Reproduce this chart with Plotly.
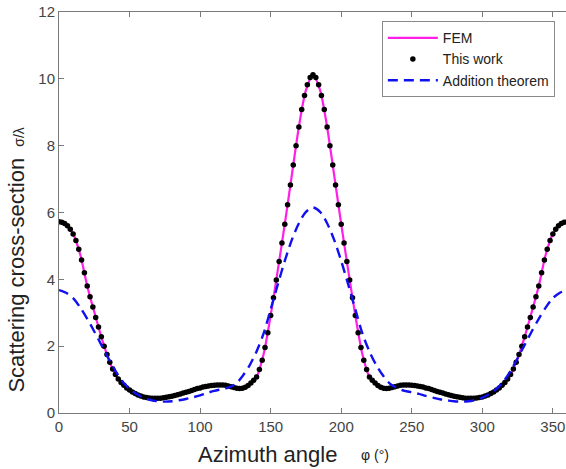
import numpy as np
import plotly.graph_objects as go

# ---------------- data ----------------
phi_5 = np.arange(0, 360.1, 5.0)        # FEM and addition-theorem sampling (deg)
phi_2 = np.arange(0, 360.1, 2.0)        # "This work" sampling (deg)

sigma_fem = [
    5.72, 5.64, 5.36, 4.75, 3.80, 3.02, 2.28, 1.63, 1.15, 0.87,
    0.69, 0.56, 0.48, 0.45, 0.44, 0.46, 0.50, 0.56, 0.62, 0.69,
    0.75, 0.80, 0.83, 0.84, 0.81, 0.75, 0.74, 0.86, 1.08, 1.76,
    2.92, 4.26, 5.65, 7.12, 8.56, 9.66, 10.12,
    9.66, 8.56, 7.12, 5.65, 4.26, 2.92, 1.76, 1.08, 0.86, 0.74,
    0.75, 0.81, 0.84, 0.83, 0.80, 0.75, 0.69, 0.62, 0.56, 0.50,
    0.46, 0.44, 0.45, 0.48, 0.56, 0.69, 0.87, 1.15, 1.63, 2.28,
    3.02, 3.80, 4.75, 5.36, 5.64, 5.72,
]

sigma_this_work = [
    5.72, 5.71, 5.67, 5.60, 5.50, 5.36, 5.16, 4.90, 4.58, 4.20,
    3.80, 3.48, 3.17, 2.86, 2.57, 2.28, 2.00, 1.75, 1.52, 1.32,
    1.15, 1.02, 0.91, 0.83, 0.75, 0.69, 0.63, 0.58, 0.54, 0.51,
    0.48, 0.465, 0.45, 0.445, 0.44, 0.44, 0.445, 0.455, 0.47, 0.485,
    0.50, 0.52, 0.545, 0.57, 0.595, 0.62, 0.645, 0.675, 0.70, 0.73,
    0.75, 0.775, 0.795, 0.81, 0.825, 0.83, 0.84, 0.84, 0.84, 0.83,
    0.81, 0.785, 0.76, 0.74, 0.73, 0.74, 0.77, 0.82, 0.90, 0.98,
    1.08, 1.30, 1.58, 1.96, 2.40, 2.92, 3.45, 3.98, 4.53, 5.09,
    5.65, 6.23, 6.82, 7.42, 8.00, 8.56, 9.08, 9.50, 9.82, 10.04,
    10.12,
    10.04, 9.82, 9.50, 9.08, 8.56, 8.00, 7.42, 6.82, 6.23, 5.65,
    5.09, 4.53, 3.98, 3.45, 2.92, 2.40, 1.96, 1.58, 1.30, 1.08,
    0.98, 0.90, 0.82, 0.77, 0.74, 0.73, 0.74, 0.76, 0.785, 0.81,
    0.83, 0.84, 0.84, 0.84, 0.83, 0.825, 0.81, 0.795, 0.775, 0.75,
    0.73, 0.70, 0.675, 0.645, 0.62, 0.595, 0.57, 0.545, 0.52, 0.50,
    0.485, 0.47, 0.455, 0.445, 0.44, 0.44, 0.445, 0.45, 0.465, 0.48,
    0.51, 0.54, 0.58, 0.63, 0.69, 0.75, 0.83, 0.91, 1.02, 1.15,
    1.32, 1.52, 1.75, 2.00, 2.28, 2.57, 2.86, 3.17, 3.48, 3.80,
    4.20, 4.58, 4.90, 5.16, 5.36, 5.50, 5.60, 5.67, 5.71, 5.72,
]

sigma_addition = [
    3.68, 3.60, 3.44, 3.16, 2.82, 2.44, 2.04, 1.64, 1.26, 0.94,
    0.72, 0.57, 0.46, 0.39, 0.35, 0.34, 0.35, 0.38, 0.42, 0.47,
    0.53, 0.60, 0.66, 0.71, 0.76, 0.86, 1.10, 1.42, 1.84, 2.38,
    3.10, 3.84, 4.55, 5.18, 5.68, 6.02, 6.15,
    6.02, 5.68, 5.18, 4.55, 3.84, 3.10, 2.38, 1.84, 1.42, 1.10,
    0.86, 0.74, 0.66, 0.62, 0.57, 0.51, 0.46, 0.41, 0.38, 0.35,
    0.34, 0.35, 0.39, 0.46, 0.57, 0.72, 0.94, 1.26, 1.64, 2.04,
    2.44, 2.82, 3.16, 3.44, 3.60, 3.68,
]

x_ticks = [0, 50, 100, 150, 200, 250, 300, 350]
y_ticks = [0, 2, 4, 6, 8, 10, 12]

# ---------------- figure ----------------
FONT = "Liberation Sans, Arial, Helvetica, sans-serif"
AX = "#7a7a7a"

fig = go.Figure()
fig.add_trace(go.Scatter(
    x=phi_5, y=sigma_fem, mode="lines", name="FEM",
    line=dict(color="#ff1fe6", width=2.2, shape="spline", smoothing=0.8),
))
fig.add_trace(go.Scatter(
    x=phi_2, y=sigma_this_work, mode="markers", name="This work",
    marker=dict(color="#000000", size=5.5, line=dict(width=0)),
))
fig.add_trace(go.Scatter(
    x=phi_5, y=sigma_addition, mode="lines", name="Addition theorem",
    line=dict(color="#1010f0", width=2.4, dash="10px,6px", shape="spline", smoothing=0.8),
))

fig.update_layout(
    width=566, height=469,
    margin=dict(l=59, r=0, t=12, b=56),
    paper_bgcolor="white", plot_bgcolor="white",
    font=dict(family=FONT, color="#333333"),
    showlegend=True,
    legend=dict(
        x=0.978, y=0.977, xanchor="right", yanchor="top",
        bgcolor="white", bordercolor="#8a8a8a", borderwidth=1,
        font=dict(family=FONT, size=14, color="#222222"),
        tracegroupgap=0, itemwidth=50,
    ),
    xaxis=dict(
        range=[0, 359.3], tickvals=x_ticks, ticktext=[str(v) for v in x_ticks],
        ticks="inside", ticklen=5, tickcolor=AX, showline=True, linecolor=AX,
        linewidth=1, mirror="ticks", showgrid=False, zeroline=False,
        tickfont=dict(family=FONT, size=15, color="#444444"),
    ),
    yaxis=dict(
        range=[0, 12], tickvals=y_ticks, ticktext=[str(v) for v in y_ticks],
        ticks="inside", ticklen=5, tickcolor=AX, showline=True, linecolor=AX,
        linewidth=1, showgrid=False, zeroline=False,
        tickfont=dict(family=FONT, size=15, color="#444444"),
    ),
    annotations=[
        dict(text="Azimuth angle", xref="paper", yref="paper", x=0.412, y=-0.104,
             showarrow=False, xanchor="center", yanchor="middle",
             font=dict(family=FONT, size=22, color="#222222")),
        dict(text="φ (°)", xref="paper", yref="paper", x=0.623, y=-0.104,
             showarrow=False, xanchor="center", yanchor="middle",
             font=dict(family=FONT, size=14, color="#222222")),
        dict(text="Scattering cross-section", xref="paper", yref="paper",
             x=-0.083, y=0.345, textangle=-90, showarrow=False,
             xanchor="center", yanchor="middle",
             font=dict(family=FONT, size=22, color="#222222")),
        dict(text="σ/λ", xref="paper", yref="paper",
             x=-0.079, y=0.689, textangle=-90, showarrow=False,
             xanchor="center", yanchor="middle",
             font=dict(family=FONT, size=14, color="#222222")),
    ],
)

# remove the browser's default 8px body margin so the figure fills the window
fig.write_html(
    "out.html",
    config={"displayModeBar": False},
    post_script="document.body.style.margin='0';document.body.style.overflow='hidden';",
)
